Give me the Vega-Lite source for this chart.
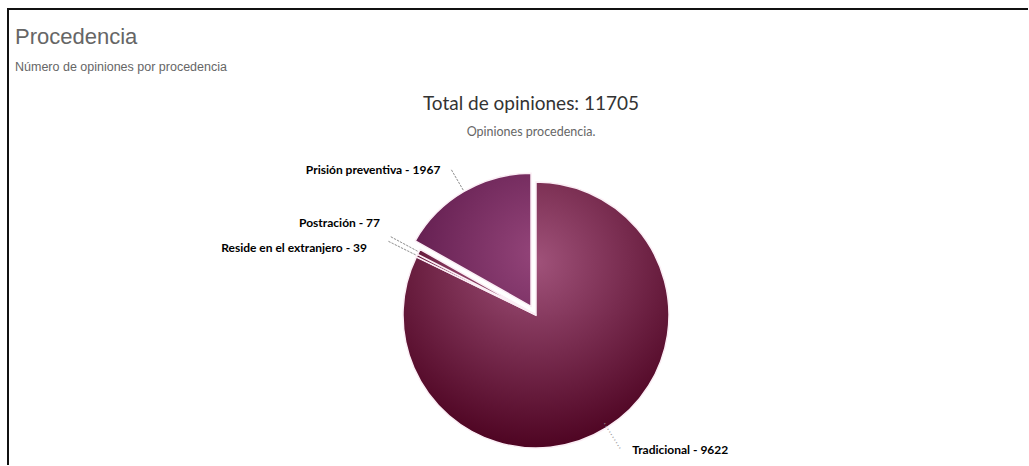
{
  "$schema": "https://vega.github.io/schema/vega-lite/v6.json",
  "padding": {"left": 7, "top": 8, "right": 0, "bottom": 0},
  "background": "#ffffff",
  "title": {
    "text": "Procedencia",
    "subtitle": "Número de opiniones por procedencia",
    "anchor": "start",
    "frame": "group",
    "offset": -66,
    "dx": 7,
    "font": "Liberation Sans",
    "fontSize": 22,
    "fontWeight": "normal",
    "color": "#666666",
    "subtitleFont": "Liberation Sans",
    "subtitleFontSize": 12.5,
    "subtitleColor": "#666666",
    "subtitlePadding": 12
  },
  "datasets": {
    "procedencia": [
      {"cat": "Tradicional", "value": 9622, "order": 1, "label": "Tradicional - 9622"},
      {"cat": "Reside en el extranjero", "value": 39, "order": 2, "label": "Reside en el extranjero - 39"},
      {"cat": "Postración", "value": 77, "order": 3, "label": "Postración - 77"},
      {"cat": "Prisión preventiva", "value": 1967, "order": 4, "label": "Prisión preventiva - 1967"}
    ]
  },
  "vconcat": [
    {
      "title": {
        "text": "Total de opiniones: 11705",
        "subtitle": "Opiniones procedencia.",
        "anchor": "middle",
        "frame": "group",
        "offset": -129,
        "dx": 13,
        "font": "Lato",
        "fontSize": 19,
        "fontWeight": "normal",
        "color": "#333333",
        "subtitleFont": "Lato",
        "subtitleFontSize": 12.5,
        "subtitleColor": "#666666",
        "subtitlePadding": 12
      },
      "width": 1020,
      "height": 456,
      "view": {"stroke": "#111111", "strokeWidth": 2, "strokeDash": [1020, 1476, 456]},
      "data": {"name": "procedencia"},
      "encoding": {
        "theta": {"field": "value", "type": "quantitative", "stack": true},
        "order": {"field": "order", "type": "quantitative"}
      },
      "layer": [
        {
          "mark": {
            "type": "arc",
            "outerRadius": 133,
            "xOffset": 18,
            "yOffset": 78,
            "stroke": "#fbeef5",
            "strokeWidth": 1.5,
            "fill": {"gradient": "radial", "x1": 0.5, "y1": 0.3, "r1": 0, "x2": 0.5, "y2": 0.3, "r2": 0.7,
              "stops": [{"offset": 0, "color": "#a0527a"}, {"offset": 1, "color": "#4e0422"}]}
          },
          "encoding": {
            "opacity": {"condition": {"test": "datum.cat === 'Prisión preventiva'", "value": 0}, "value": 1}
          }
        },
        {
          "mark": {
            "type": "arc",
            "outerRadius": 133,
            "xOffset": 13,
            "yOffset": 69.3,
            "stroke": "#fbeef5",
            "strokeWidth": 1.5,
            "fill": {"gradient": "radial", "x1": 1, "y1": 0.6, "r1": 0, "x2": 1, "y2": 0.6, "r2": 1.5,
              "stops": [{"offset": 0, "color": "#94457a"}, {"offset": 1, "color": "#4a0a3a"}]}
          },
          "encoding": {
            "opacity": {"condition": {"test": "datum.cat === 'Prisión preventiva'", "value": 1}, "value": 0}
          }
        },
        {
          "mark": {"type": "arc", "filled": false, "stroke": "#999999", "strokeWidth": 1, "strokeDash": [1.5, 2],
            "outerRadius": 158, "innerRadius": 134, "padAngle": 3.14159, "xOffset": 13, "yOffset": 69.3},
          "encoding": {
            "opacity": {"condition": {"test": "datum.cat === 'Prisión preventiva'", "value": 1}, "value": 0}
          }
        },
        {
          "mark": {"type": "arc", "filled": false, "stroke": "#999999", "strokeWidth": 1, "strokeDash": [1.5, 2],
            "outerRadius": 165, "innerRadius": 134, "padAngle": 3.14159, "xOffset": 18, "yOffset": 78},
          "encoding": {
            "opacity": {"condition": {"test": "datum.cat === 'Postración' || datum.cat === 'Reside en el extranjero'", "value": 1}, "value": 0}
          }
        },
        {
          "mark": {"type": "text", "radius": 143, "align": "center", "baseline": "middle", "angle": 58, "xOffset": 18, "yOffset": 78,
            "font": "DejaVu Sans", "fontSize": 10, "fill": "#999999"},
          "encoding": {
            "text": {"condition": {"test": "datum.cat === 'Tradicional'", "value": "··········"}, "value": ""}
          }
        },
        {
          "mark": {"type": "text", "radius": 170, "align": "right", "baseline": "middle", "dx": 8, "dy": 80,
            "font": "Lato", "fontSize": 12, "fontWeight": "bold", "fill": "#000000"},
          "encoding": {
            "text": {"condition": {"test": "datum.cat === 'Prisión preventiva'", "field": "label", "type": "nominal"}, "value": ""}
          }
        },
        {
          "mark": {"type": "text", "radius": 180, "align": "right", "baseline": "middle", "dx": 20.5, "dy": 71,
            "font": "Lato", "fontSize": 12, "fontWeight": "bold", "fill": "#000000"},
          "encoding": {
            "text": {"condition": {"test": "datum.cat === 'Postración'", "field": "label", "type": "nominal"}, "value": ""}
          }
        },
        {
          "mark": {"type": "text", "radius": 180, "align": "right", "baseline": "middle", "dx": 10, "dy": 91,
            "font": "Lato", "fontSize": 12, "fontWeight": "bold", "fill": "#000000"},
          "encoding": {
            "text": {"condition": {"test": "datum.cat === 'Reside en el extranjero'", "field": "label", "type": "nominal"}, "value": ""}
          }
        },
        {
          "mark": {"type": "text", "radius": 170, "align": "left", "baseline": "middle", "dx": 24, "dy": 69,
            "font": "Lato", "fontSize": 12, "fontWeight": "bold", "fill": "#000000"},
          "encoding": {
            "text": {"condition": {"test": "datum.cat === 'Tradicional'", "field": "label", "type": "nominal"}, "value": ""}
          }
        }
      ]
    }
  ],
  "config": {
    "view": {"stroke": "#111111", "strokeWidth": 2, "strokeDash": [1020, 1476, 456]},
    "concat": {"spacing": 0}
  }
}
